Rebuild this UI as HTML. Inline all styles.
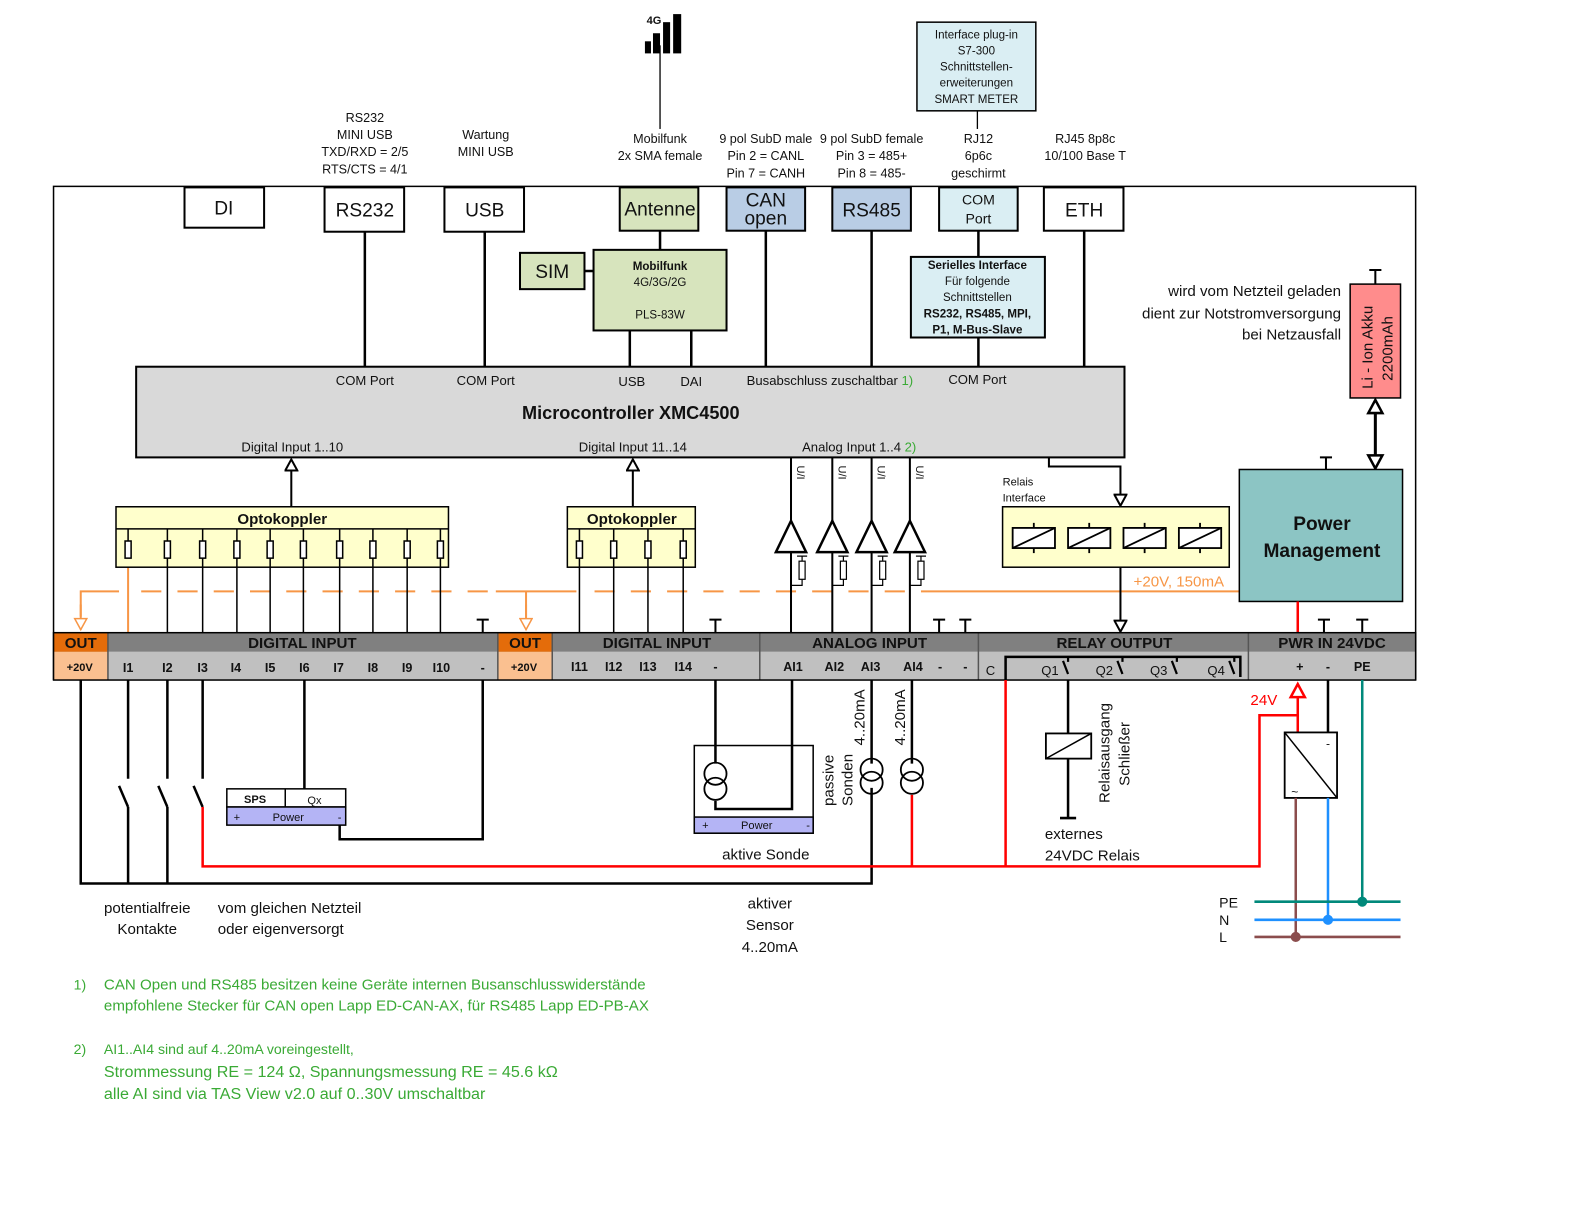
<!DOCTYPE html>
<html><head><meta charset="utf-8"><style>
html,body{margin:0;padding:0;background:#fff}
svg{display:block}
text{font-family:"Liberation Sans",sans-serif;fill:#111}
.c{text-anchor:middle}
.b{font-weight:bold}
</style></head><body>
<svg width="1580" height="1214" viewBox="0 0 1568 1205" xmlns="http://www.w3.org/2000/svg">
<defs>
<marker id="ah" markerWidth="14" markerHeight="14" refX="12" refY="7" orient="auto" markerUnits="userSpaceOnUse"><path d="M1,1 L1,13 L12,7 Z" fill="#fff" stroke="#000" stroke-width="2"/></marker>
<marker id="aho" markerWidth="14" markerHeight="14" refX="12" refY="7" orient="auto" markerUnits="userSpaceOnUse"><path d="M1,1 L1,13 L12,7 Z" fill="#fff" stroke="#f79646" stroke-width="1.5"/></marker>
</defs>

<!-- 4G icon -->
<g fill="#000"><rect x="640" y="41" width="6" height="12"/><rect x="648" y="33" width="7" height="20"/><rect x="658" y="22" width="7" height="31"/><rect x="668" y="14" width="8" height="39"/></g>
<text x="649" y="24" class="c b" font-size="11">4G</text>
<line x1="655" y1="45" x2="655" y2="128" stroke="#000" stroke-width="1.3"/>

<!-- top labels -->
<g font-size="12.5" class="c">
<text x="362" y="121" class="c">RS232</text><text x="362" y="138" class="c">MINI USB</text><text x="362" y="155" class="c">TXD/RXD = 2/5</text><text x="362" y="172" class="c">RTS/CTS = 4/1</text>
<text x="482" y="138" class="c">Wartung</text><text x="482" y="155" class="c">MINI USB</text>
<text x="655" y="142" class="c">Mobilfunk</text><text x="655" y="159" class="c">2x SMA female</text>
<text x="760" y="142" class="c">9 pol SubD male</text><text x="760" y="159" class="c">Pin 2 = CANL</text><text x="760" y="176" class="c">Pin 7 = CANH</text>
<text x="865" y="142" class="c">9 pol SubD female</text><text x="865" y="159" class="c">Pin 3 = 485+</text><text x="865" y="176" class="c">Pin 8 = 485-</text>
<text x="971" y="142" class="c">RJ12</text><text x="971" y="159" class="c">6p6c</text><text x="971" y="176" class="c">geschirmt</text>
<text x="1077" y="142" class="c">RJ45 8p8c</text><text x="1077" y="159" class="c">10/100 Base T</text>
</g>
<rect x="910" y="22" width="118" height="88" fill="#daeef3" stroke="#000" stroke-width="1.5"/>
<g font-size="11.5"><text x="969" y="38" class="c">Interface plug-in</text><text x="969" y="54" class="c">S7-300</text><text x="969" y="70" class="c">Schnittstellen-</text><text x="969" y="86" class="c">erweiterungen</text><text x="969" y="102" class="c">SMART METER</text></g>
<line x1="970" y1="110" x2="970" y2="128" stroke="#000" stroke-width="1.3"/>

<!-- frame -->
<path d="M53,675 L53,185 L1405,185 L1405,675" fill="none" stroke="#000" stroke-width="1.5"/>

<!-- connectors from top boxes -->
<g stroke="#000" stroke-width="2.5">
<line x1="362" y1="230" x2="362" y2="364"/><line x1="481" y1="230" x2="481" y2="364"/>
<line x1="655" y1="229" x2="655" y2="248"/><line x1="580" y1="269" x2="589" y2="269"/>
<line x1="625" y1="328" x2="625" y2="364"/><line x1="686" y1="328" x2="686" y2="364"/>
<line x1="760" y1="229" x2="760" y2="364"/><line x1="865" y1="229" x2="865" y2="364"/>
<line x1="971" y1="229" x2="971" y2="255"/><line x1="971" y1="335" x2="971" y2="364"/>
<line x1="1076" y1="229" x2="1076" y2="364"/>
</g>
<g stroke="#000" stroke-width="2">
<rect x="183" y="186" width="79" height="40" fill="#fff"/>
<rect x="322" y="186" width="79" height="44" fill="#fff"/>
<rect x="441" y="186" width="79" height="44" fill="#fff"/>
<rect x="615" y="186" width="78" height="43" fill="#d7e4bd"/>
<rect x="721" y="186" width="78" height="43" fill="#b9cde5"/>
<rect x="826" y="186" width="78" height="43" fill="#b9cde5"/>
<rect x="932" y="186" width="78" height="43" fill="#daeef3"/>
<rect x="1036" y="186" width="79" height="43" fill="#fff"/>
<rect x="516" y="251" width="64" height="36" fill="#d7e4bd"/>
<rect x="589" y="248" width="132" height="80" fill="#d7e4bd"/>
<rect x="904" y="255" width="133" height="80" fill="#daeef3"/>
</g>
<g font-size="19"><text x="222" y="213" class="c">DI</text><text x="362" y="215" class="c">RS232</text><text x="481" y="215" class="c">USB</text><text x="655" y="214" class="c">Antenne</text>
<text x="760" y="205" class="c">CAN</text><text x="760" y="223" class="c">open</text><text x="865" y="215" class="c">RS485</text><text x="1076" y="215" class="c">ETH</text><text x="548" y="276" class="c">SIM</text></g>
<text x="971" y="203" class="c" font-size="14">COM</text><text x="971" y="222" class="c" font-size="14">Port</text>
<g font-size="11.5"><text x="655" y="268" class="c b">Mobilfunk</text><text x="655" y="284" class="c">4G/3G/2G</text><text x="655" y="316" class="c">PLS-83W</text>
<text x="970" y="267" class="c b">Serielles Interface</text><text x="970" y="283" class="c">Für folgende</text><text x="970" y="299" class="c">Schnittstellen</text><text x="970" y="315" class="c b">RS232, RS485, MPI,</text><text x="970" y="331" class="c b">P1, M-Bus-Slave</text></g>

<!-- MCU -->
<rect x="135" y="364" width="981" height="90" fill="#d9d9d9" stroke="#000" stroke-width="2"/>
<g font-size="13"><text x="362" y="382" class="c">COM Port</text><text x="482" y="382" class="c">COM Port</text><text x="627" y="383" class="c">USB</text><text x="686" y="383" class="c">DAI</text>
<text x="741" y="382">Busabschluss zuschaltbar <tspan fill="#3aaa35">1)</tspan></text><text x="970" y="381" class="c">COM Port</text>
<text x="290" y="448" class="c">Digital Input 1..10</text><text x="628" y="448" class="c">Digital Input 11..14</text><text x="796" y="448">Analog Input 1..4 <tspan fill="#3aaa35">2)</tspan></text></g>
<text x="626" y="416" class="c b" font-size="18">Microcontroller XMC4500</text>

<!-- opto arrows -->
<line x1="289" y1="503" x2="289" y2="456" stroke="#000" stroke-width="2" marker-end="url(#ah)"/>
<line x1="628" y1="503" x2="628" y2="456" stroke="#000" stroke-width="2" marker-end="url(#ah)"/>

<!-- orange dashed -->
<g stroke="#f79646" stroke-width="2" fill="none">
<polyline points="80,612 80,587 118,587"/>
<line x1="140" y1="587" x2="492" y2="587" stroke-dasharray="20,16"/>
<polyline points="492,587 572,587"/><line x1="522" y1="587" x2="522" y2="612"/>
<line x1="590" y1="587" x2="920" y2="587" stroke-dasharray="20,16"/>
<line x1="920" y1="587" x2="1230" y2="587"/>
<line x1="127" y1="545" x2="127" y2="628"/>
</g>
<line x1="80" y1="600" x2="80" y2="625" stroke="#f79646" stroke-width="2" marker-end="url(#aho)"/>
<line x1="522" y1="600" x2="522" y2="625" stroke="#f79646" stroke-width="2" marker-end="url(#aho)"/>
<text x="1125" y="582" fill="#f79646" font-size="15" style="fill:#f79646">+20V, 150mA</text>

<!-- optokoppler -->
<g stroke="#000" stroke-width="1.5">
<rect x="115" y="503" width="330" height="60" fill="#ffffcc"/><line x1="115" y1="525" x2="445" y2="525"/>
<rect x="563" y="503" width="127" height="60" fill="#ffffcc"/><line x1="563" y1="525" x2="690" y2="525"/>
</g>
<text x="280" y="520" class="c b" font-size="15">Optokoppler</text>
<text x="627" y="520" class="c b" font-size="15">Optokoppler</text>
<g stroke="#000" stroke-width="1.5">
<line x1="127" y1="525" x2="127" y2="537"/>
<line x1="166" y1="525" x2="166" y2="628"/><line x1="201" y1="525" x2="201" y2="628"/><line x1="235" y1="525" x2="235" y2="628"/><line x1="268" y1="525" x2="268" y2="628"/><line x1="301" y1="525" x2="301" y2="628"/><line x1="337" y1="525" x2="337" y2="628"/><line x1="370" y1="525" x2="370" y2="628"/><line x1="404" y1="525" x2="404" y2="628"/><line x1="437" y1="525" x2="437" y2="628"/>
<line x1="575" y1="525" x2="575" y2="628"/><line x1="609" y1="525" x2="609" y2="628"/><line x1="643" y1="525" x2="643" y2="628"/><line x1="678" y1="525" x2="678" y2="628"/>
</g>
<g fill="#fff" stroke="#000" stroke-width="1.5">
<rect x="124" y="537" width="6" height="17"/><rect x="163" y="537" width="6" height="17"/><rect x="198" y="537" width="6" height="17"/><rect x="232" y="537" width="6" height="17"/><rect x="265" y="537" width="6" height="17"/><rect x="298" y="537" width="6" height="17"/><rect x="334" y="537" width="6" height="17"/><rect x="367" y="537" width="6" height="17"/><rect x="401" y="537" width="6" height="17"/><rect x="434" y="537" width="6" height="17"/>
<rect x="572" y="537" width="6" height="17"/><rect x="606" y="537" width="6" height="17"/><rect x="640" y="537" width="6" height="17"/><rect x="675" y="537" width="6" height="17"/>
</g>

<!-- analog inputs -->
<g stroke="#000" stroke-width="2" fill="none">
<line x1="785" y1="454" x2="785" y2="628"/><line x1="826" y1="454" x2="826" y2="628"/><line x1="865" y1="454" x2="865" y2="628"/><line x1="903" y1="454" x2="903" y2="628"/>
</g>
<g stroke="#000" stroke-width="2.5" fill="#fff">
<path d="M785,517 L770,548 L800,548 Z"/><path d="M826,517 L811,548 L841,548 Z"/><path d="M865,517 L850,548 L880,548 Z"/><path d="M903,517 L888,548 L918,548 Z"/>
</g>
<g stroke="#000" stroke-width="1.2" fill="#fff">
<path d="M791,552 h10 M796,552 v5 M796,575 v6 h-11" fill="none"/><rect x="793" y="557" width="6" height="18"/>
<path d="M832,552 h10 M837,552 v5 M837,575 v6 h-11" fill="none"/><rect x="834" y="557" width="6" height="18"/>
<path d="M871,552 h10 M876,552 v5 M876,575 v6 h-11" fill="none"/><rect x="873" y="557" width="6" height="18"/>
<path d="M909,552 h10 M914,552 v5 M914,575 v6 h-11" fill="none"/><rect x="911" y="557" width="6" height="18"/>
</g>
<g font-size="11"><text transform="translate(791,462) rotate(90)">U/I</text><text transform="translate(832,462) rotate(90)">U/I</text><text transform="translate(871,462) rotate(90)">U/I</text><text transform="translate(909,462) rotate(90)">U/I</text></g>

<!-- relais interface -->
<polyline points="1041,454 1041,463 1112,463 1112,502" fill="none" stroke="#000" stroke-width="2" marker-end="url(#ah)"/>
<text x="995" y="482" font-size="11">Relais</text><text x="995" y="498" font-size="11">Interface</text>
<rect x="995" y="503" width="225" height="60" fill="#ffffcc" stroke="#000" stroke-width="1.5"/>
<g stroke="#000" stroke-width="1.8" fill="#fff">
<rect x="1005" y="524" width="42" height="20"/><line x1="1005" y1="544" x2="1047" y2="524"/><line x1="1026" y1="519" x2="1026" y2="524"/><line x1="1026" y1="544" x2="1026" y2="549"/>
<rect x="1060" y="524" width="42" height="20"/><line x1="1060" y1="544" x2="1102" y2="524"/><line x1="1081" y1="519" x2="1081" y2="524"/><line x1="1081" y1="544" x2="1081" y2="549"/>
<rect x="1115" y="524" width="42" height="20"/><line x1="1115" y1="544" x2="1157" y2="524"/><line x1="1136" y1="519" x2="1136" y2="524"/><line x1="1136" y1="544" x2="1136" y2="549"/>
<rect x="1170" y="524" width="42" height="20"/><line x1="1170" y1="544" x2="1212" y2="524"/><line x1="1191" y1="519" x2="1191" y2="524"/><line x1="1191" y1="544" x2="1191" y2="549"/>
</g>
<line x1="1112" y1="563" x2="1112" y2="627" stroke="#000" stroke-width="2" marker-end="url(#ah)"/>

<!-- power management & battery -->
<text x="1331" y="294" font-size="15" text-anchor="end">wird vom Netzteil geladen</text>
<text x="1331" y="316" font-size="15" text-anchor="end">dient zur Notstromversorgung</text>
<text x="1331" y="337" font-size="15" text-anchor="end">bei Netzausfall</text>
<path d="M1365,268 v14 M1359,268 h12" stroke="#000" stroke-width="2"/>
<rect x="1340" y="282" width="50" height="113" fill="#ff8c8c" stroke="#000" stroke-width="1.5"/>
<text transform="translate(1362,386) rotate(-90)" font-size="15">Li - Ion Akku</text>
<text transform="translate(1382,378) rotate(-90)" font-size="15">2200mAh</text>
<line x1="1365" y1="410" x2="1365" y2="452" stroke="#000" stroke-width="3"/>
<path d="M1358,410 L1372,410 L1365,397 Z" fill="#fff" stroke="#000" stroke-width="2.5"/>
<path d="M1358,452 L1372,452 L1365,465 Z" fill="#fff" stroke="#000" stroke-width="2.5"/>
<path d="M1316,454 v12 M1310,454 h12" stroke="#000" stroke-width="2"/>
<rect x="1230" y="466" width="162" height="131" fill="#8cc5c4" stroke="#000" stroke-width="1.5"/>
<text x="1312" y="526" class="c b" font-size="19">Power</text><text x="1312" y="553" class="c b" font-size="19">Management</text>
<line x1="1288" y1="597" x2="1288" y2="628" stroke="#f00" stroke-width="2.5"/>

<!-- ground Ts -->
<g stroke="#000" stroke-width="2">
<path d="M479,615 v13 M473,615 h12"/><path d="M710,615 v13 M704,615 h12"/><path d="M932,615 v13 M926,615 h12"/><path d="M958,615 v13 M952,615 h12"/><path d="M1314,615 v13 M1308,615 h12"/><path d="M1352,615 v13 M1346,615 h12"/>
</g>

<!-- terminal strip -->
<rect x="53" y="628" width="1352" height="19" fill="#808080"/>
<rect x="53" y="647" width="1352" height="28" fill="#c0c0c0"/>
<rect x="53" y="628" width="54" height="19" fill="#e46c0a"/><rect x="53" y="647" width="54" height="28" fill="#fac090"/>
<rect x="494" y="628" width="54" height="19" fill="#e46c0a"/><rect x="494" y="647" width="54" height="28" fill="#fac090"/>
<g stroke="#555" stroke-width="1.5"><line x1="107" y1="628" x2="107" y2="675"/><line x1="494" y1="628" x2="494" y2="675"/><line x1="548" y1="628" x2="548" y2="675"/><line x1="754" y1="628" x2="754" y2="675"/><line x1="971" y1="628" x2="971" y2="675"/><line x1="1239" y1="628" x2="1239" y2="675"/></g>
<rect x="53" y="628" width="1352" height="47" fill="none" stroke="#000" stroke-width="1.5"/>
<g font-size="15" class="b"><text x="80" y="643" class="c b">OUT</text><text x="521" y="643" class="c b">OUT</text>
<text x="300" y="643" class="c b">DIGITAL INPUT</text><text x="652" y="643" class="c b">DIGITAL INPUT</text><text x="863" y="643" class="c b">ANALOG INPUT</text><text x="1106" y="643" class="c b">RELAY OUTPUT</text><text x="1322" y="643" class="c b">PWR IN 24VDC</text></g>
<g font-size="12.5" class="b"><text x="79" y="666" class="c b" font-size="11">+20V</text><text x="520" y="666" class="c b" font-size="11">+20V</text>
<text x="127" y="667" class="c">I1</text><text x="166" y="667" class="c">I2</text><text x="201" y="667" class="c">I3</text><text x="234" y="667" class="c">I4</text><text x="268" y="667" class="c">I5</text><text x="302" y="667" class="c">I6</text><text x="336" y="667" class="c">I7</text><text x="370" y="667" class="c">I8</text><text x="404" y="667" class="c">I9</text><text x="438" y="667" class="c">I10</text><text x="479" y="667" class="c">-</text>
<text x="575" y="666" class="c">I11</text><text x="609" y="666" class="c">I12</text><text x="643" y="666" class="c">I13</text><text x="678" y="666" class="c">I14</text><text x="710" y="666" class="c">-</text>
<text x="787" y="666" class="c">AI1</text><text x="828" y="666" class="c">AI2</text><text x="864" y="666" class="c">AI3</text><text x="906" y="666" class="c">AI4</text><text x="933" y="666" class="c">-</text><text x="958" y="666" class="c">-</text>
<text x="1290" y="666" class="c">+</text><text x="1318" y="666" class="c">-</text><text x="1352" y="666" class="c">PE</text></g>
<g font-size="13"><text x="983" y="670" class="c">C</text><text x="1042" y="670" class="c">Q1</text><text x="1096" y="670" class="c">Q2</text><text x="1150" y="670" class="c">Q3</text><text x="1207" y="670" class="c">Q4</text></g>
<polyline points="998,675 998,652 1231,652 1231,672" fill="none" stroke="#000" stroke-width="2.5"/>
<g stroke="#000" stroke-width="2.2"><path d="M1055,656 l5,13 M1060,652 v5"/><path d="M1109,656 l5,13 M1114,652 v5"/><path d="M1163,656 l5,13 M1168,652 v5"/><path d="M1220,656 l5,13 M1225,652 v5"/></g>

<!-- bottom wiring black -->
<g stroke="#000" stroke-width="2.5" fill="none">
<polyline points="80,675 80,877 865,877 865,782"/>
<line x1="865" y1="675" x2="865" y2="758"/>
<line x1="127" y1="675" x2="127" y2="773"/><line x1="118" y1="780" x2="127" y2="801"/><line x1="127" y1="801" x2="127" y2="877"/>
<line x1="166" y1="675" x2="166" y2="773"/><line x1="157" y1="780" x2="166" y2="801"/><line x1="166" y1="801" x2="166" y2="877"/>
<line x1="201" y1="675" x2="201" y2="773"/><line x1="192" y1="780" x2="201" y2="801"/>
<line x1="302" y1="675" x2="302" y2="783"/>
<polyline points="337,819 337,833 479,833 479,675"/>
<line x1="710" y1="675" x2="710" y2="758"/>
<polyline points="710,795 710,803 786,803 786,675"/>
<line x1="905" y1="675" x2="905" y2="758"/>
<line x1="1060" y1="675" x2="1060" y2="812"/>
<line x1="1052" y1="812" x2="1068" y2="812"/>
<line x1="1318" y1="675" x2="1318" y2="727"/>
</g>
<!-- SPS box -->
<rect x="225" y="783" width="118" height="18" fill="#fff" stroke="#000" stroke-width="1.5"/><line x1="283" y1="783" x2="283" y2="801" stroke="#000" stroke-width="1.5"/>
<rect x="225" y="801" width="118" height="18" fill="#b4b4f5" stroke="#000" stroke-width="1.5"/>
<g font-size="11"><text x="253" y="797" class="c b">SPS</text><text x="312" y="798" class="c">Qx</text><text x="235" y="815" class="c">+</text><text x="286" y="815" class="c">Power</text><text x="337" y="815" class="c">-</text></g>
<!-- aktive Sonde -->
<rect x="689" y="740" width="118" height="87" fill="none" stroke="#000" stroke-width="1.5"/>
<rect x="689" y="811" width="118" height="16" fill="#b4b4f5" stroke="#000" stroke-width="1.5"/>
<g font-size="11"><text x="700" y="823" class="c">+</text><text x="751" y="823" class="c">Power</text><text x="802" y="823" class="c">-</text></g>
<text x="760" y="853" class="c" font-size="15">aktive Sonde</text>
<g fill="none" stroke="#000" stroke-width="1.8">
<circle cx="710" cy="768" r="11"/><circle cx="710" cy="783" r="11"/>
<circle cx="865" cy="764" r="11"/><circle cx="865" cy="777" r="11"/>
<circle cx="905" cy="764" r="11"/><circle cx="905" cy="777" r="11"/>
</g>
<text transform="translate(827,800) rotate(-90)" font-size="15">passive</text>
<text transform="translate(846,800) rotate(-90)" font-size="15">Sonden</text>
<text transform="translate(858,740) rotate(-90)" font-size="15">4..20mA</text>
<text transform="translate(898,740) rotate(-90)" font-size="15">4..20mA</text>
<!-- ext relay -->
<rect x="1038" y="728" width="45" height="25" fill="#fff" stroke="#000" stroke-width="1.8"/><line x1="1038" y1="753" x2="1083" y2="728" stroke="#000" stroke-width="1.5"/>
<text transform="translate(1101,797) rotate(-90)" font-size="15">Relaisausgang</text>
<text transform="translate(1121,780) rotate(-90)" font-size="15">Schließer</text>
<text x="1037" y="833" font-size="15">externes</text><text x="1037" y="854" font-size="15">24VDC Relais</text>

<!-- red wiring -->
<g stroke="#f00" stroke-width="2.5" fill="none">
<polyline points="201,801 201,860 1250,860 1250,710 1288,710"/>
<line x1="905" y1="789" x2="905" y2="860"/>
<line x1="998" y1="675" x2="998" y2="860"/>
<line x1="1288" y1="727" x2="1288" y2="690"/>
</g>
<path d="M1281,692 L1295,692 L1288,679 Z" fill="#fff" stroke="#f00" stroke-width="2.5"/>
<text x="1241" y="700" font-size="15" style="fill:#f00">24V</text>
<!-- PSU -->
<rect x="1275" y="727" width="52" height="65" fill="#fff" stroke="#000" stroke-width="1.8"/><line x1="1275" y1="727" x2="1327" y2="792" stroke="#000" stroke-width="1.5"/>
<text x="1318" y="742" font-size="12" class="c">-</text><text x="1285" y="790" font-size="12" class="c">~</text>
<line x1="1286" y1="792" x2="1286" y2="930" stroke="#8b4d4d" stroke-width="2.5"/>
<line x1="1318" y1="792" x2="1318" y2="913" stroke="#1e90ff" stroke-width="2.5"/>
<line x1="1352" y1="675" x2="1352" y2="895" stroke="#00897b" stroke-width="2.5"/>
<line x1="1245" y1="895" x2="1390" y2="895" stroke="#00897b" stroke-width="2.5"/>
<line x1="1245" y1="913" x2="1390" y2="913" stroke="#1e90ff" stroke-width="2.5"/>
<line x1="1245" y1="930" x2="1390" y2="930" stroke="#8b4d4d" stroke-width="2.5"/>
<circle cx="1352" cy="895" r="5" fill="#00897b"/><circle cx="1318" cy="913" r="5" fill="#1e90ff"/><circle cx="1286" cy="930" r="5" fill="#8b4d4d"/>
<g font-size="14"><text x="1210" y="901">PE</text><text x="1210" y="918">N</text><text x="1210" y="935">L</text></g>

<!-- bottom labels -->
<g font-size="15"><text x="146" y="906" class="c">potentialfreie</text><text x="146" y="927" class="c">Kontakte</text>
<text x="216" y="906">vom gleichen Netzteil</text><text x="216" y="927">oder eigenversorgt</text>
<text x="764" y="902" class="c">aktiver</text><text x="764" y="923" class="c">Sensor</text><text x="764" y="945" class="c">4..20mA</text></g>

<!-- footnotes -->
<g style="fill:#3aaa35" font-size="15">
<text x="73" y="982" style="fill:#3aaa35" font-size="14">1)</text><text x="103" y="982" style="fill:#3aaa35">CAN Open und RS485 besitzen keine Geräte internen Busanschlusswiderstände</text>
<text x="103" y="1003" style="fill:#3aaa35">empfohlene Stecker für CAN open Lapp ED-CAN-AX, für RS485 Lapp ED-PB-AX</text>
<text x="73" y="1046" style="fill:#3aaa35" font-size="14">2)</text><text x="103" y="1046" style="fill:#3aaa35" font-size="14">AI1..AI4 sind auf 4..20mA voreingestellt,</text>
<text x="103" y="1069" style="fill:#3aaa35" font-size="16">Strommessung RE = 124 Ω, Spannungsmessung RE = 45.6 kΩ</text>
<text x="103" y="1091" style="fill:#3aaa35" font-size="16">alle AI sind via TAS View v2.0 auf 0..30V umschaltbar</text>
</g>
</svg>
</body></html>
